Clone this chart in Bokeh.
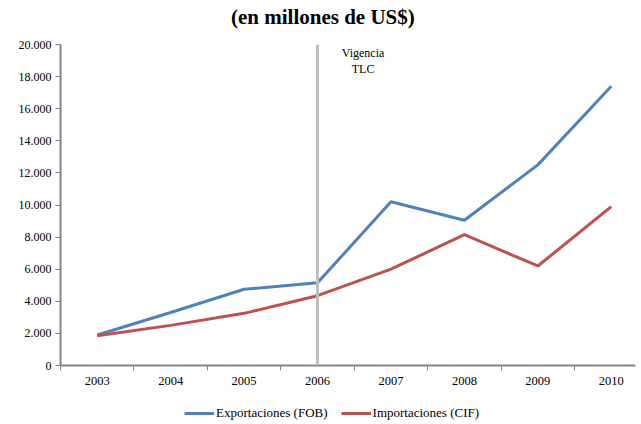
from bokeh.plotting import figure
from bokeh.layouts import column
from bokeh.models import (ColumnDataSource, FixedTicker, Range1d, Legend, LegendItem,
                          Label, Span)
from bokeh.embed import file_html
from bokeh.resources import INLINE

years = ["2003", "2004", "2005", "2006", "2007", "2008", "2009", "2010"]
exportaciones = [1900, 3300, 4750, 5150, 10200, 9050, 12500, 17400]
importaciones = [1850, 2500, 3250, 4350, 6000, 8150, 6200, 9900]
y_ticks = [0, 2000, 4000, 6000, 8000, 10000, 12000, 14000, 16000, 18000, 20000]
y_tick_labels = ["0", "2.000", "4.000", "6.000", "8.000", "10.000", "12.000",
                 "14.000", "16.000", "18.000", "20.000"]
series_names = ["Exportaciones (FOB)", "Importaciones (CIF)"]
series_colors = ["#4F81BD", "#C0504D"]
vigencia_year = "2006"
title_text = "(en millones de US$)"

FONT = "Liberation Serif"
idx = list(range(len(years)))
src = ColumnDataSource(dict(x=idx, exp=exportaciones, imp=importaciones))

# title strip
p0 = figure(width=641, height=30, output_backend="svg", toolbar_location=None,
            x_range=Range1d(0, 641), y_range=Range1d(0, 30),
            x_axis_location=None, y_axis_location=None,
            min_border_left=0, min_border_right=0, min_border_top=0, min_border_bottom=0)
p0.grid.visible = False
p0.outline_line_color = None
p0.add_layout(Label(x=292.5, y=14, text=title_text, text_align="center",
                    text_baseline="middle", text_font=FONT, text_font_size="21px",
                    text_font_style="bold", text_color="#000000"))

p = figure(width=641, height=365, output_backend="svg", toolbar_location=None,
           x_range=Range1d(-0.5, 7.33), y_range=Range1d(0, 20000),
           min_border_left=60, min_border_right=6, min_border_top=14, min_border_bottom=30)
p.outline_line_color = None
p.xgrid.visible = False
p.ygrid.visible = False

vx = years.index(vigencia_year)
p.add_layout(Span(location=vx, dimension="height", line_color="#BFBFBF", line_width=3))

r1 = p.line("x", "exp", source=src, line_color=series_colors[0], line_width=3)
r2 = p.line("x", "imp", source=src, line_color=series_colors[1], line_width=3)

p.add_layout(Label(x=vx + 0.62, y=19450, text="Vigencia", text_align="center",
                   text_baseline="middle", text_font=FONT, text_font_size="12px",
                   text_color="#000000"))
p.add_layout(Label(x=vx + 0.62, y=18450, text="TLC", text_align="center",
                   text_baseline="middle", text_font=FONT, text_font_size="12px",
                   text_color="#000000"))

# x axis
xa = p.xaxis[0]
xa.ticker = FixedTicker(ticks=idx, minor_ticks=[i - 0.5 for i in range(len(years) + 1)])
xa.major_label_overrides = {i: y for i, y in enumerate(years)}
xa.major_tick_out = 0
xa.major_tick_in = 0
xa.minor_tick_out = 5
xa.minor_tick_in = 0
xa.minor_tick_line_color = "#868686"
xa.axis_line_color = "#868686"
xa.axis_line_width = 2
xa.minor_tick_line_width = 1
xa.major_label_text_font = FONT
xa.major_label_text_font_size = "12.5px"
xa.major_label_text_color = "#000000"
xa.major_label_standoff = 6

ya = p.yaxis[0]
ya.ticker = FixedTicker(ticks=y_ticks, minor_ticks=[])
ya.major_label_overrides = {t: l for t, l in zip(y_ticks, y_tick_labels)}
ya.major_tick_out = 5
ya.major_tick_in = 0
ya.major_tick_line_color = "#868686"
ya.axis_line_color = "#868686"
ya.axis_line_width = 2
ya.major_label_text_font = FONT
ya.major_label_text_font_size = "12px"
ya.major_label_text_color = "#000000"
ya.major_label_standoff = 4

# legend strip below the chart (its lines fall outside the strip's visible range)
p2 = figure(width=641, height=29, output_backend="svg", toolbar_location=None,
            x_range=Range1d(0, 1), y_range=Range1d(0, 1),
            min_border_left=0, min_border_right=0, min_border_top=0, min_border_bottom=0)
p2.axis.visible = False
p2.grid.visible = False
p2.outline_line_color = None
l1 = p2.line(x=idx, y=exportaciones, line_color=series_colors[0], line_width=3)
l2 = p2.line(x=idx, y=importaciones, line_color=series_colors[1], line_width=3)
legend = Legend(items=[LegendItem(label=series_names[0], renderers=[l1]),
                       LegendItem(label=series_names[1], renderers=[l2])],
                orientation="horizontal", location=(124, 3),
                border_line_color=None, background_fill_alpha=0,
                label_text_font=FONT, label_text_font_size="13px",
                label_text_color="#000000", glyph_width=30, glyph_height=12,
                label_height=12, spacing=13, label_standoff=2, padding=4, margin=0)
p2.add_layout(legend, "center")

layout = column(p0, p, p2, spacing=0)
open("out.html", "w").write(file_html(layout, INLINE))
